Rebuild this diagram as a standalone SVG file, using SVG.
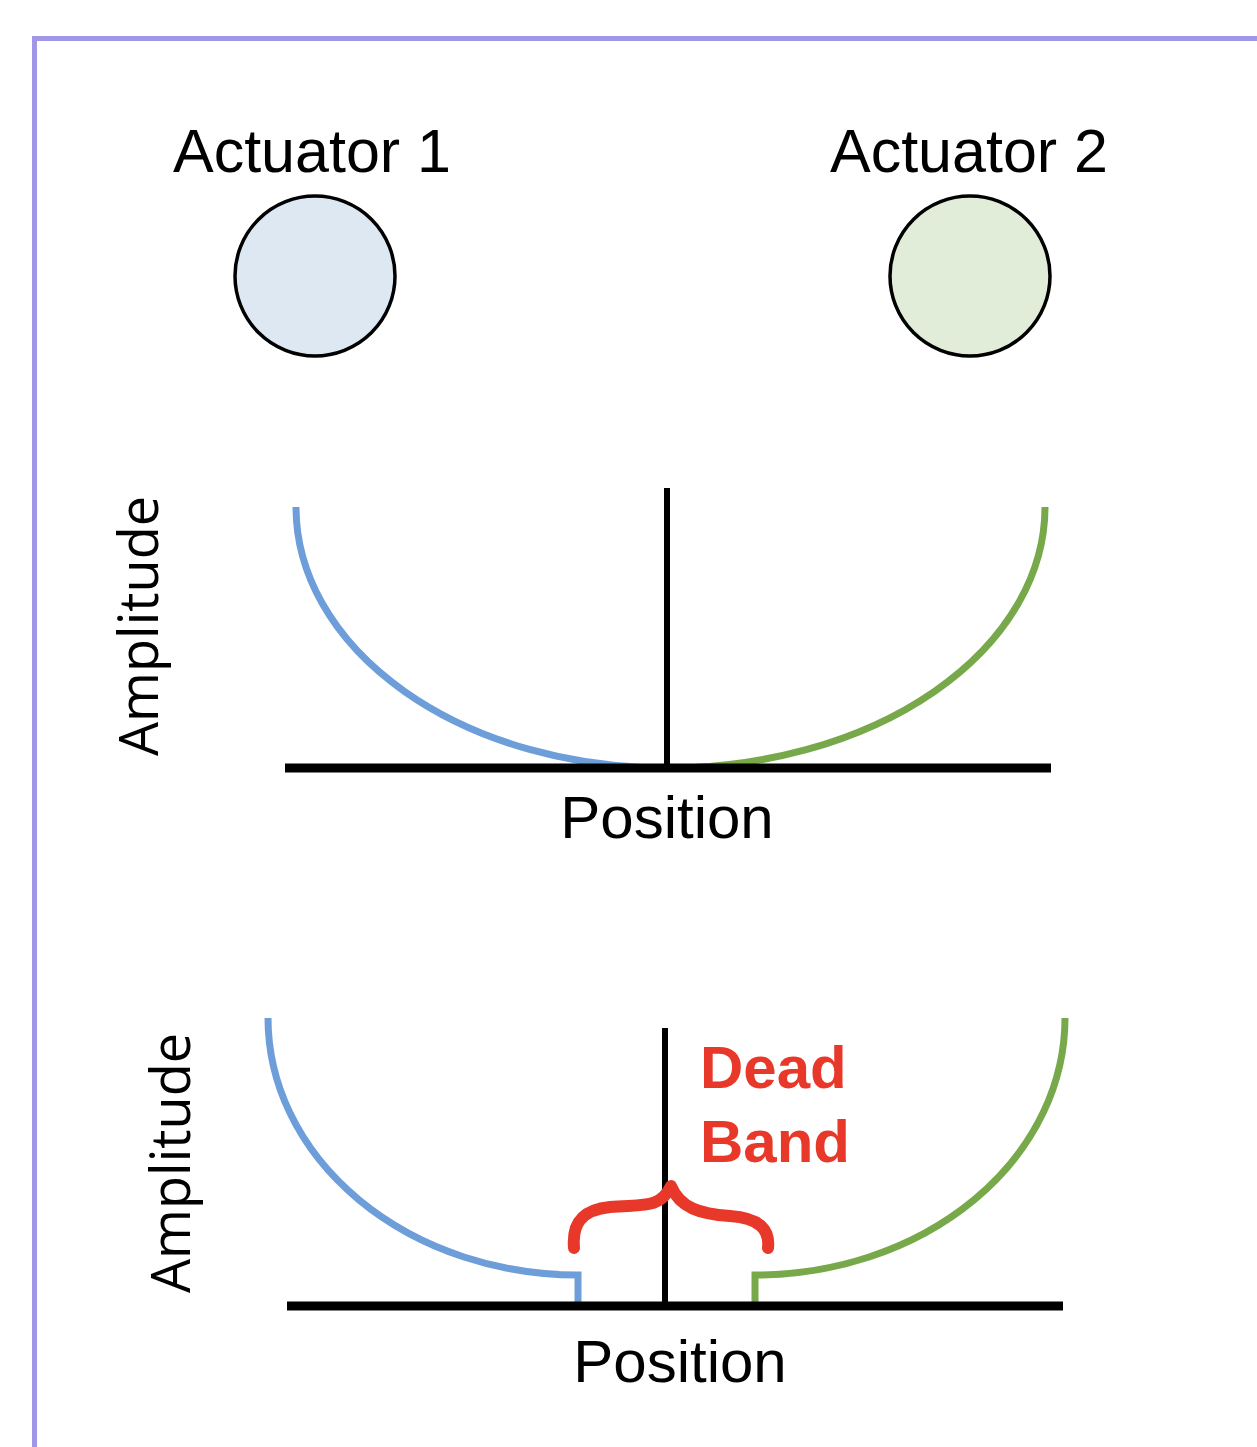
<svg xmlns="http://www.w3.org/2000/svg" width="1257" height="1447" viewBox="0 0 1257 1447">
<style>
.lbl{font-family:"Liberation Sans",Arial,sans-serif;fill:#000}
.amp{font-family:"Open Sans","Noto Sans",sans-serif;font-size:54px;fill:#000}
.axis{stroke:#000;fill:none}
.blue{stroke:#6d9eda;stroke-width:7;fill:none}
.green{stroke:#77a94a;stroke-width:7;fill:none}
.db{font-family:"Liberation Sans",Arial,sans-serif;font-weight:bold;font-size:60px;fill:#e8382a}
</style>
<rect x="0" y="0" width="1257" height="1447" fill="#fff"/>
<path d="M34.5,1447 V38.5 H1257" fill="none" stroke="#a097e8" stroke-width="5"/>
<g id="actuator1">
<text class="lbl" x="312" y="172" font-size="61" text-anchor="middle">Actuator 1</text>
<circle cx="315" cy="276" r="80" fill="#dde8f3" stroke="#000" stroke-width="3.5"/>
</g>
<g id="actuator2">
<text class="lbl" x="969" y="172" font-size="61" text-anchor="middle">Actuator 2</text>
<circle cx="970" cy="276" r="80" fill="#e1edd9" stroke="#000" stroke-width="3.5"/>
</g>
<g id="plot1">
<line class="axis" x1="667" y1="488" x2="667" y2="770" stroke-width="6"/>
<path class="blue" d="M296,507 A371,261 0 0 0 667,768"/>
<path class="green" d="M667,768 A378,261 0 0 0 1045,507"/>
<line class="axis" x1="285" y1="768" x2="1051" y2="768" stroke-width="9"/>
<text class="lbl" x="667" y="838" font-size="60" text-anchor="middle">Position</text>
<text class="amp" transform="translate(158,626) rotate(-90)" text-anchor="middle">Amplitude</text>
</g>
<g id="plot2">
<line class="axis" x1="665" y1="1028" x2="665" y2="1306" stroke-width="6"/>
<path class="blue" d="M268,1018 A310,257 0 0 0 578,1275 V1306"/>
<path class="green" d="M1065,1018 A310,257 0 0 1 755,1275 V1306"/>
<line class="axis" x1="287" y1="1306" x2="1063" y2="1306" stroke-width="9"/>
<text class="lbl" x="680" y="1382" font-size="60" text-anchor="middle">Position</text>
<text class="amp" transform="translate(190,1163) rotate(-90)" text-anchor="middle">Amplitude</text>
</g>
<g id="deadband">
<path d="M574,1248 C572,1225 580,1210 610,1207 C640,1204 660,1210 671,1186 C680,1208 700,1214 730,1216 C760,1218 770,1230 768,1248" fill="none" stroke="#e8382a" stroke-width="12" stroke-linecap="round" stroke-linejoin="round"/>
<text class="db" x="700" y="1088">Dead</text>
<text class="db" x="700" y="1162">Band</text>
</g>
</svg>
